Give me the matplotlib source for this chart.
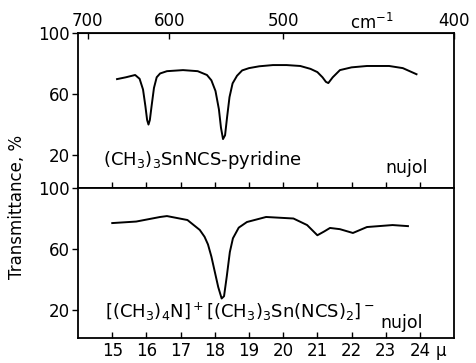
import numpy as np
import matplotlib
matplotlib.use("Agg")
import matplotlib.pyplot as plt

plt.rcParams['font.family'] = ['DejaVu Sans']
plt.rcParams['mathtext.fontset'] = 'dejavusans'

# wavelength (micron) / transmittance (%)
top_x = [15.14, 15.4, 15.67, 15.8, 15.9, 15.97, 16.02, 16.06, 16.1, 16.15, 16.22, 16.3, 16.4,
         16.6, 17.07, 17.5, 17.77, 17.9, 18.02, 18.12, 18.18, 18.24, 18.3, 18.36, 18.43,
         18.52, 18.65, 18.8, 19.0, 19.3, 19.7, 20.1, 20.5, 20.8, 21.0, 21.15, 21.25, 21.32,
         21.45, 21.66, 22.0, 22.45, 23.1, 23.5, 23.9]
top_y = [69.8, 71.0, 72.5, 70.0, 63.0, 52.0, 43.0, 40.0, 43.0, 52.0, 64.0, 71.0, 73.5,
         75.0, 75.7, 75.0, 72.5, 69.0, 62.0, 50.0, 38.0, 30.5, 33.0, 45.0, 58.0,
         67.0, 72.0, 75.5, 77.0, 78.2, 79.0, 79.0, 78.4, 76.5, 74.4, 71.0, 68.0, 67.2,
         71.0, 75.7, 77.5, 78.4, 78.4, 77.0, 73.0]

bot_x = [15.0, 15.7, 16.4, 16.6, 17.2, 17.56, 17.7, 17.8, 17.9, 18.0, 18.1, 18.2, 18.27,
         18.35, 18.44, 18.53, 18.7, 18.94, 19.5, 20.3, 20.7, 21.0, 21.2, 21.37, 21.66,
         22.04, 22.45, 23.2, 23.65]
bot_y = [77.0, 78.0, 81.0, 81.6, 79.0, 72.5, 68.0, 63.0, 55.0, 45.0, 35.0, 27.5, 29.0,
         42.0, 58.0, 67.0, 74.0, 77.7, 81.0, 80.0, 75.7, 69.0, 71.5, 73.8, 73.0,
         70.5, 74.4, 75.7, 75.0]

micron_ticks = [15, 16, 17, 18, 19, 20, 21, 22, 23, 24]
wavenumber_ticks = [700, 600, 500, 400]
y_ticks = [20, 60, 100]

fig = plt.figure(figsize=(4.76, 3.63), dpi=100)
ax1 = fig.add_axes([0.164, 0.482, 0.79, 0.427])
ax2 = fig.add_axes([0.164, 0.069, 0.79, 0.413])

ax1.plot(top_x, top_y, color='black', lw=1.4)
ax2.plot(bot_x, bot_y, color='black', lw=1.4)

for ax in (ax1, ax2):
    ax.set_xlim(14, 25)
    ax.set_yticks(y_ticks)
    ax.set_xticks(micron_ticks)
    ax.tick_params(axis='y', direction='out', length=4, width=1, labelsize=12, pad=2)
    ax.tick_params(axis='x', direction='in', length=4, width=1, labelsize=12)
    for s in ax.spines.values():
        s.set_linewidth(1.3)
ax1.set_ylim(-1.6, 100)
ax2.set_ylim(1.6, 100)
ax1.tick_params(axis='x', labelbottom=False)
ax2.tick_params(axis='x', pad=3)

# wavenumber scale on top
def inv(x):
    x = np.asarray(x, dtype=float)
    with np.errstate(divide='ignore'):
        return 1e4 / x

sec = ax1.secondary_xaxis('top', functions=(inv, inv))
sec.set_xticks(wavenumber_ticks)
sec.tick_params(direction='in', length=4, width=1, labelsize=12, pad=2)
ax1.text(22.6, 1.0, 'cm$^{-1}$', transform=ax1.get_xaxis_transform(),
         ha='center', va='bottom', fontsize=12)
ax2.text(24.45, -0.025, 'μ', transform=ax2.get_xaxis_transform(),
         ha='left', va='top', fontsize=12)

ax1.text(14.73, 16.7, '(CH$_3$)$_3$SnNCS-pyridine', fontsize=13, va='center')
ax1.text(22.98, 11.5, 'nujol', fontsize=12.5, va='center')
ax2.text(14.79, 18.7, '[(CH$_3$)$_4$N]$^+$[(CH$_3$)$_3$Sn(NCS)$_2$]$^-$', fontsize=13, va='center')
ax2.text(22.83, 11.5, 'nujol', fontsize=12.5, va='center')

fig.text(0.036, 0.43, 'Transmittance, %', rotation=90, ha='center', va='center', fontsize=12)

fig.savefig('out.png', dpi=100)
